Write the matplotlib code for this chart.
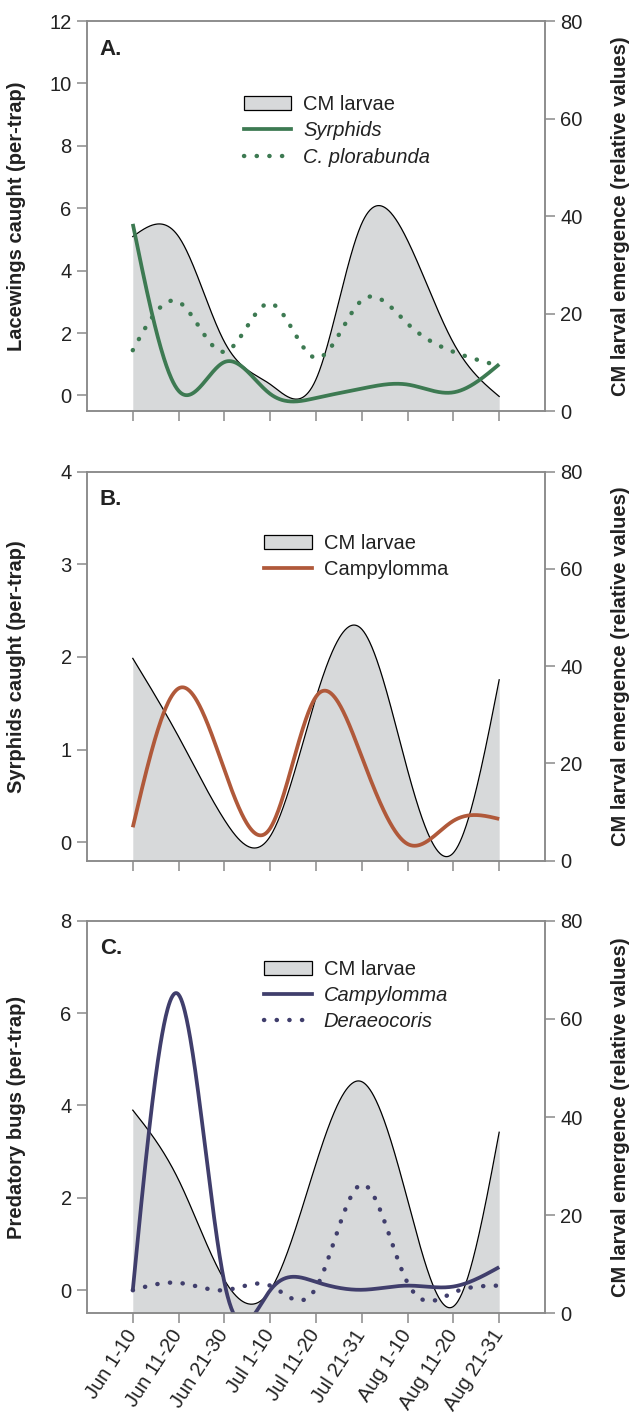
import matplotlib
matplotlib.use('Agg')
import matplotlib.pyplot as plt
from matplotlib.patches import Patch
from matplotlib.lines import Line2D
import numpy as np

plt.rcParams['font.family'] = ['Liberation Sans', 'DejaVu Sans']

periods = ['Jun 1-10', 'Jun 11-20', 'Jun 21-30', 'Jul 1-10', 'Jul 11-20',
           'Jul 21-31', 'Aug 1-10', 'Aug 11-20', 'Aug 21-31']

# A. lacewings / syrphids
cm_a = [35.8, 35.8, 14.2, 5.5, 6.5, 38.5, 35.0, 14.0, 3.0]
syrphids_a = [5.5, 0.15, 1.07, 0.05, -0.08, 0.22, 0.35, 0.1, 1.0]
plorabunda_a = [1.45, 3.0, 1.4, 2.95, 1.2, 3.05, 2.3, 1.4, 0.95]

# B. syrphids
cm_b = [41.6, 25.5, 8.4, 5.0, 33.5, 47.6, 18.6, 1.6, 37.2]
campylomma_b = [0.16, 1.66, 0.78, 0.15, 1.57, 0.92, -0.02, 0.23, 0.25]

# C. predatory bugs
cm_c = [41.4, 27.2, 6.8, 4.7, 30.5, 47.2, 23.1, 1.4, 36.9]
campylomma_c = [0.0, 6.4, 0.17, 0.0, 0.18, 0.01, 0.1, 0.08, 0.5]
deraeocoris_c = [0.0, 0.16, 0.0, 0.1, 0.05, 2.29, 0.16, -0.05, 0.1]

GREEN = '#3d7a52'
BROWN = '#b0593a'
NAVY = '#403e6c'
FILL = '#d7d9da'
SPINE = '#8a8a8a'
DOTS = (0, (0.05, 2.8))


def spline(y, n=600):
    # natural cubic spline through equally spaced points
    y = np.asarray(y, dtype=float)
    k = len(y)
    A = np.zeros((k, k))
    b = np.zeros(k)
    A[0, 0] = A[-1, -1] = 1
    for i in range(1, k - 1):
        A[i, i - 1:i + 2] = [1, 4, 1]
        b[i] = 6 * (y[i + 1] - 2 * y[i] + y[i - 1])
    M = np.linalg.solve(A, b)
    xs = np.linspace(0, k - 1, n)
    i = np.clip(np.floor(xs).astype(int), 0, k - 2)
    t = xs - i
    ys = ((1 - t) * y[i] + t * y[i + 1]
          + ((1 - t) ** 3 - (1 - t)) * M[i] / 6 + (t ** 3 - t) * M[i + 1] / 6)
    return xs, ys


def panel(rect, letter, ylabel, ymin, ymax, step, cm, series, leg_xy, last=False):
    ax = fig.add_axes(rect)
    ax2 = ax.twinx()
    x = np.arange(len(periods))

    xs, ys = spline(cm)
    ax2.fill_between(xs, 0, ys, color=FILL, lw=0)
    ax2.plot(xs, ys, color='black', lw=0.9)
    ax2.set_ylim(0, 80)
    ax2.set_yticks(range(0, 81, 20))

    handles = [Patch(facecolor=FILL, edgecolor='black', lw=0.9)]
    labels = ['CM larvae']
    styles = ['normal']
    for vals, color, dotted, name, style in series:
        xs, ys = spline(vals)
        if dotted:
            ax.plot(xs, ys, color=color, lw=3.2, ls=DOTS, dash_capstyle='round')
            handles.append(Line2D([], [], color=color, lw=3.2, ls=DOTS,
                                  dash_capstyle='round'))
        else:
            ax.plot(xs, ys, color=color, lw=2.7, solid_capstyle='butt')
            handles.append(Line2D([], [], color=color, lw=2.7))
        labels.append(name)
        styles.append(style)

    ax.set_zorder(ax2.get_zorder() + 1)
    ax.patch.set_visible(False)

    ax.set_xlim(-1, 9)
    ax.set_ylim(ymin, ymax)
    ax.set_yticks(np.arange(0, ymax + 0.01, step))
    ax.set_xticks(x)
    if last:
        ax.set_xticklabels(periods, rotation=57, ha='right', va='center',
                           rotation_mode='anchor')
    else:
        ax.set_xticklabels([])

    for a in (ax, ax2):
        for s in a.spines.values():
            s.set_color(SPINE)
            s.set_linewidth(1.1)
        a.tick_params(direction='out', length=7, width=1.1, color=SPINE,
                      labelsize=14.5, labelcolor='#222222', pad=4)
    ax.tick_params(axis='x', pad=6)

    ax.set_ylabel(ylabel, fontsize=14.5, fontweight='bold', color='#222222')
    ax.yaxis.set_label_coords(-0.133, 0.5)
    ax2.set_ylabel('CM larval emergence (relative values)', fontsize=14.5,
                   fontweight='bold', color='#222222')
    ax2.yaxis.set_label_coords(1.145, 0.5)

    ax.text(0.028, 0.955, letter, transform=ax.transAxes, fontsize=16,
            fontweight='bold', va='top', ha='left', color='#222222')

    leg = ax.legend(handles, labels, loc='upper left', bbox_to_anchor=leg_xy,
                    frameon=False, fontsize=14.5, borderpad=0, borderaxespad=0,
                    handlelength=2.35, handleheight=0.72, handletextpad=0.6,
                    labelspacing=0.36)
    for txt, st in zip(leg.get_texts(), styles):
        txt.set_style(st)
        txt.set_color('#222222')
    return ax


fig = plt.figure(figsize=(6.34, 14.16), dpi=100)

panel([0.1372, 0.7097, 0.7224, 0.2754], 'A.', 'Lacewings caught (per-trap)',
      -0.5, 12, 2, cm_a,
      [(syrphids_a, GREEN, False, 'Syrphids', 'italic'),
       (plorabunda_a, GREEN, True, 'C. plorabunda', 'italic')],
      (0.343, 0.81))

panel([0.1372, 0.3922, 0.7224, 0.2747], 'B.', 'Syrphids caught (per-trap)',
      -0.2, 4, 1, cm_b,
      [(campylomma_b, BROWN, False, 'Campylomma', 'normal')],
      (0.387, 0.84))

panel([0.1372, 0.0725, 0.7224, 0.2773], 'C.', 'Predatory bugs (per-trap)',
      -0.5, 8, 2, cm_c,
      [(campylomma_c, NAVY, False, 'Campylomma', 'italic'),
       (deraeocoris_c, NAVY, True, 'Deraeocoris', 'italic')],
      (0.387, 0.9), last=True)

fig.savefig('out.png', dpi=100)
